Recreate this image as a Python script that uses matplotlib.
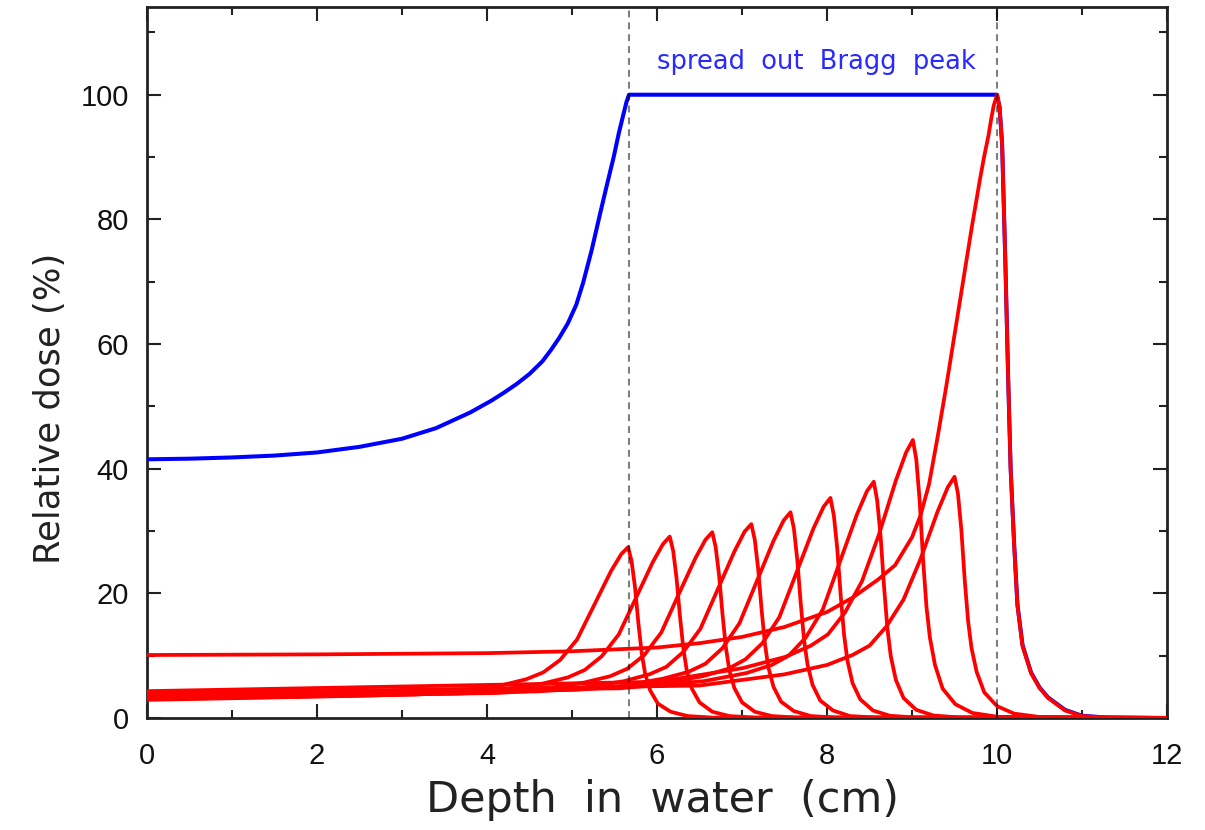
import matplotlib
matplotlib.use('Agg')
import matplotlib.pyplot as plt
from matplotlib.ticker import MultipleLocator

# spread out Bragg peak (blue)
sobp_x = [0, 0.5, 1, 1.5, 2, 2.5, 3, 3.4, 3.8, 4.05, 4.2, 4.35, 4.5, 4.65, 4.75, 4.85, 4.95, 5.05, 5.13, 5.23,
          5.33, 5.41, 5.49, 5.55, 5.6, 5.64, 5.67,
          10.0, 10.03, 10.06, 10.1, 10.13, 10.16, 10.2, 10.24, 10.3, 10.4, 10.5, 10.6, 10.8, 11.0, 11.3, 12]
sobp_y = [41.5, 41.6, 41.8, 42.1, 42.6, 43.5, 44.8, 46.5, 49.0, 50.9, 52.2, 53.6, 55.2, 57.2, 59.0, 61.0, 63.3, 66.3, 69.8, 75.0,
          80.9, 85.5, 90.0, 93.8, 96.6, 98.8, 100,
          100, 98, 92, 72, 55, 40, 28.3, 18.2, 11.7, 7.3, 4.9, 3.3, 1.3, 0.35, 0.06, 0]

# pristine Bragg peaks (red), shallowest first
peak1_x = [0, 2.66, 3.66, 4.16, 4.46, 4.66, 4.86, 5.06, 5.26, 5.46, 5.58, 5.66, 5.70, 5.74, 5.78, 5.82, 5.86, 5.92, 6.01, 6.16, 6.36, 6.66, 12]
peak1_y = [2.9, 3.6, 4.2, 5.2, 6.2, 7.3, 9.3, 12.6, 18.1, 23.6, 26.3, 27.4, 25.2, 21.1, 15.3, 10.4, 7.1, 4.4, 2.3, 1.0, 0.3, 0.05, 0]

peak2_x = [0, 3.15, 4.15, 4.65, 4.95, 5.15, 5.35, 5.55, 5.75, 5.95, 6.07, 6.15, 6.19, 6.23, 6.27, 6.31, 6.35, 6.41, 6.50, 6.65, 6.85, 7.15, 12]
peak2_y = [3.0, 3.75, 4.5, 5.5, 6.5, 7.7, 9.9, 13.4, 19.2, 25.0, 27.9, 29.1, 26.8, 22.4, 16.3, 11.1, 7.6, 4.7, 2.5, 1.0, 0.3, 0.06, 0]

peak3_x = [0, 3.65, 4.65, 5.15, 5.45, 5.65, 5.85, 6.05, 6.25, 6.45, 6.57, 6.65, 6.69, 6.73, 6.77, 6.81, 6.85, 6.91, 7.00, 7.15, 7.35, 7.65, 12]
peak3_y = [3.1, 3.9, 4.6, 5.7, 6.7, 7.9, 10.1, 13.7, 19.7, 25.6, 28.6, 29.8, 27.4, 22.9, 16.7, 11.3, 7.7, 4.8, 2.5, 1.0, 0.3, 0.06, 0]

peak4_x = [0, 4.11, 5.11, 5.61, 5.91, 6.11, 6.31, 6.51, 6.71, 6.91, 7.03, 7.11, 7.15, 7.19, 7.23, 7.27, 7.31, 7.37, 7.46, 7.61, 7.81, 8.11, 12]
peak4_y = [3.2, 4.0, 4.8, 5.9, 7.0, 8.2, 10.6, 14.3, 20.5, 26.7, 29.9, 31.1, 28.6, 23.9, 17.4, 11.8, 8.1, 5.0, 2.6, 1.1, 0.3, 0.06, 0]

peak5_x = [0, 4.57, 5.57, 6.07, 6.37, 6.57, 6.77, 6.97, 7.17, 7.37, 7.49, 7.57, 7.61, 7.65, 7.69, 7.73, 7.77, 7.83, 7.92, 8.07, 8.27, 8.57, 12]
peak5_y = [3.4, 4.25, 5.1, 6.3, 7.4, 8.7, 11.2, 15.2, 21.8, 28.4, 31.7, 33.0, 30.4, 25.4, 18.5, 12.5, 8.6, 5.3, 2.8, 1.2, 0.3, 0.07, 0]

peak6_x = [0, 5.04, 6.04, 6.54, 6.84, 7.04, 7.24, 7.44, 7.64, 7.84, 7.96, 8.04, 8.08, 8.12, 8.16, 8.20, 8.24, 8.30, 8.39, 8.54, 8.74, 9.04, 12]
peak6_y = [3.6, 4.5, 5.5, 6.7, 7.9, 9.4, 12.0, 16.2, 23.3, 30.4, 33.9, 35.3, 32.5, 27.2, 19.8, 13.4, 9.2, 5.6, 3.0, 1.2, 0.35, 0.07, 0]

peak7_x = [0, 5.55, 6.55, 7.05, 7.35, 7.55, 7.75, 7.95, 8.15, 8.35, 8.47, 8.55, 8.59, 8.63, 8.67, 8.71, 8.75, 8.81, 8.90, 9.05, 9.25, 9.55, 12]
peak7_y = [3.8, 4.75, 5.9, 7.2, 8.5, 10.0, 12.9, 17.4, 25.0, 32.6, 36.4, 37.9, 34.9, 29.2, 21.2, 14.4, 9.9, 6.1, 3.2, 1.3, 0.4, 0.08, 0]

peak8_x = [0, 6.01, 7.01, 7.51, 7.81, 8.01, 8.21, 8.41, 8.61, 8.81, 8.93, 9.01, 9.05, 9.09, 9.13, 9.17, 9.21, 9.27, 9.36, 9.51, 9.71, 10.01, 12]
peak8_y = [4.3, 5.8, 8.0, 9.8, 11.6, 13.4, 16.9, 21.9, 29.4, 38.1, 42.6, 44.6, 41.5, 34.8, 25.4, 17.8, 12.9, 8.5, 4.7, 2.2, 0.8, 0.18, 0]

peak9_x = [0, 6.50, 7.50, 8.00, 8.30, 8.50, 8.70, 8.90, 9.10, 9.30, 9.42, 9.50, 9.54, 9.58, 9.62, 9.66, 9.70, 9.76, 9.85, 10.00, 10.20, 10.50, 12]
peak9_y = [3.9, 5.2, 7.0, 8.5, 10.1, 11.6, 14.7, 19.0, 25.5, 33.1, 37.0, 38.7, 36.0, 30.2, 22.1, 15.5, 11.2, 7.4, 4.1, 1.9, 0.7, 0.15, 0]

peak10_x = [0, 2, 4, 5, 6, 6.5, 7, 7.5, 8, 8.3, 8.6, 8.8, 9.0, 9.1, 9.2, 9.3, 9.4, 9.5, 9.6, 9.7, 9.8, 9.85, 9.9, 9.93, 9.96, 10.0,
            10.03, 10.06, 10.1, 10.13, 10.16, 10.2, 10.24, 10.3, 10.4, 10.5, 10.6, 10.8, 11.0, 11.3, 12]
peak10_y = [10.1, 10.2, 10.4, 10.7, 11.3, 12.0, 13.0, 14.6, 17.0, 19.3, 22.2, 24.5, 29.0, 32.5, 37.5, 45.0, 53.0, 61.5, 70.0, 78.5, 86.5, 90.2, 93.5, 96.0, 98.2, 100,
            98.0, 92.0, 72.0, 55.0, 40.0, 28.0, 18.0, 11.5, 7.2, 4.8, 3.2, 1.2, 0.3, 0.05, 0]

peaks = [(peak1_x, peak1_y), (peak2_x, peak2_y), (peak3_x, peak3_y), (peak4_x, peak4_y),
         (peak5_x, peak5_y), (peak6_x, peak6_y), (peak7_x, peak7_y), (peak8_x, peak8_y),
         (peak9_x, peak9_y), (peak10_x, peak10_y)]

# proximal and distal edges of the plateau
sobp_edges = [5.67, 10.0]
sobp_label = 'spread  out  Bragg  peak'


def style_axes(ax) -> None:
    ax.set_xlim(0, 12)
    ax.set_ylim(0, 114)
    ax.xaxis.set_major_locator(MultipleLocator(2))
    ax.xaxis.set_minor_locator(MultipleLocator(1))
    ax.yaxis.set_major_locator(MultipleLocator(20))
    ax.yaxis.set_minor_locator(MultipleLocator(10))
    ax.tick_params(which='both', direction='in', top=True, right=True, width=1.5, color='#222222')
    ax.tick_params(which='major', length=10, pad=13, labelsize=21, labelcolor='#111111')
    ax.tick_params(axis='x', which='major', pad=17)
    ax.tick_params(which='minor', length=6)
    ax.set_yticks([0, 20, 40, 60, 80, 100])
    for spine in ax.spines.values():
        spine.set_linewidth(2.0)
        spine.set_color('#222222')

    ax.set_xlabel('Depth  in  water  (cm)', fontsize=31, family='DejaVu Sans', color='#222222', va='center')
    ax.set_ylabel('Relative dose (%)', fontsize=25.5, family='DejaVu Sans', color='#222222', va='center')
    ax.xaxis.set_label_coords(0.505, -0.115)
    ax.yaxis.set_label_coords(-0.095, 0.436)


def plot_sobp() -> None:
    plt.rcParams['font.family'] = ['Liberation Sans', 'DejaVu Sans']
    fig = plt.figure(figsize=(12.05, 8.30), dpi=100)
    ax = fig.add_axes([0.122, 0.135, 0.8465, 0.856])

    ax.plot(sobp_x, sobp_y, color='#0000ff', lw=2.9, zorder=3, solid_joinstyle='round')
    for xs, ys in peaks:
        ax.plot(xs, ys, color='#ff0000', lw=2.7, zorder=4, solid_joinstyle='round')

    for x in sobp_edges:
        ax.axvline(x, color='k', alpha=0.5, lw=1.5, ls=(0, (3.3, 2.4)), zorder=5)

    ax.text(7.88, 105.2, sobp_label, color='#2a2aff', fontsize=18.5, family='DejaVu Sans',
            ha='center', va='center')

    style_axes(ax)
    fig.savefig('out.png', dpi=100)


plot_sobp()
